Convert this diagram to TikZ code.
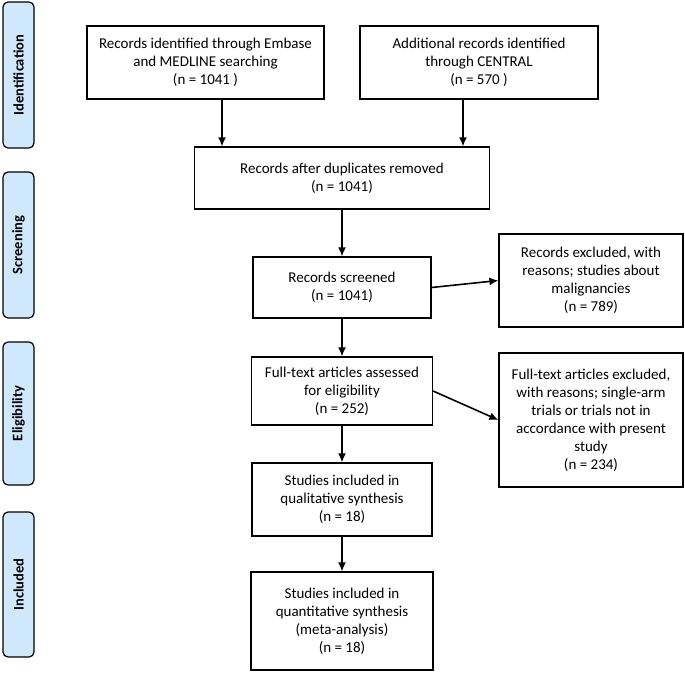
\documentclass[tikz,border=0pt]{standalone}
\usepackage{fontspec}
\setmainfont{Carlito}
\usepackage{tikz}
\usetikzlibrary{positioning,shapes,arrows,arrows.meta}
\definecolor{phaseblue}{RGB}{207,232,252}
\tikzstyle{PhaseNode}=[rectangle, draw=black, fill=phaseblue, rounded corners=5pt, line width=1.2pt, rotate=90, minimum height=31pt, font=\fontsize{14.5}{16}\selectfont\bfseries]
\tikzstyle{BoxNode}=[rectangle, draw=black, line width=1.2pt, align=center, inner sep=2pt, font=\fontsize{15}{18}\selectfont]
\tikzstyle{Flow}=[-{Latex[length=9pt,width=8pt]}, line width=1.6pt]

\begin{document}
\begin{tikzpicture}[x=1pt, y=-1pt]
    \useasboundingbox (0,0) rectangle (685,672);

    % phases
    \node (ident) [PhaseNode, minimum width=146pt] at (18.5,75) {Identification};
    \node (screen) [PhaseNode, minimum width=146pt] at (18.5,245) {Screening};
    \node (elig) [PhaseNode, minimum width=143pt] at (18.5,413.5) {Eligibility};
    \node (incl) [PhaseNode, minimum width=145pt] at (18.5,584.5) {Included};

    % boxes
    \node (embase) [BoxNode, minimum width=237pt, minimum height=73pt] at (205.5,62.5) {Records identified through Embase\\and MEDLINE searching\\(n = 1041 )};
    \node (central) [BoxNode, minimum width=238pt, minimum height=73pt] at (479,62.5) {Additional records identified\\through CENTRAL\\(n = 570 )};
    \node (dupl) [BoxNode, minimum width=295pt, minimum height=62pt] at (342,178) {Records after duplicates removed\\(n = 1041)};
    \node (screened) [BoxNode, minimum width=178pt, minimum height=61pt] at (342,287.5) {Records screened\\(n = 1041)};
    \node (excl1) [BoxNode, minimum width=184pt, minimum height=93pt] at (591,280.5) {Records excluded, with\\reasons; studies about\\malignancies\\(n = 789)};
    \node (fulltext) [BoxNode, minimum width=181pt, minimum height=68pt] at (342,391) {Full-text articles assessed\\for eligibility\\(n = 252)};
    \node (excl2) [BoxNode, minimum width=184pt, minimum height=134pt] at (591,420) {Full-text articles excluded,\\with reasons; single-arm\\trials or trials not in\\accordance with present\\study\\(n = 234)};
    \node (qual) [BoxNode, minimum width=180pt, minimum height=73pt] at (342,499.5) {Studies included in\\qualitative synthesis\\(n = 18)};
    \node (quant) [BoxNode, minimum width=182pt, minimum height=98pt] at (342,621) {Studies included in\\quantitative synthesis\\(meta-analysis)\\(n = 18)};

    % connectors
    \draw [Flow] ([xshift=-120pt]dupl.north |- embase.south) -- ([xshift=-120pt]dupl.north);
    \draw [Flow] ([xshift=121pt]dupl.north |- central.south) -- ([xshift=121pt]dupl.north);
    \draw [Flow] (dupl) -- (screened);
    \draw [Flow] (screened.east) -- (excl1.west);
    \draw [Flow] (screened) -- (fulltext);
    \draw [Flow] (fulltext.east) -- (excl2.west);
    \draw [Flow] (fulltext) -- (qual);
    \draw [Flow] (qual) -- (quant);
\end{tikzpicture}
\end{document}
